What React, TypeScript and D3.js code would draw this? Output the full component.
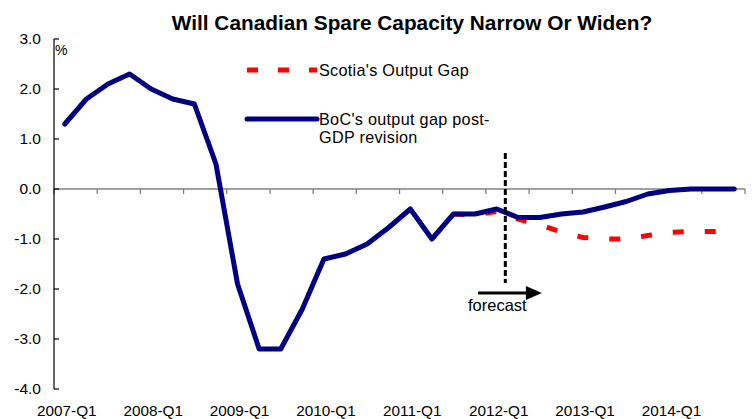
import React from "react";
import * as d3 from "d3";

const categories = [
  "2007-Q1","2007-Q2","2007-Q3","2007-Q4",
  "2008-Q1","2008-Q2","2008-Q3","2008-Q4",
  "2009-Q1","2009-Q2","2009-Q3","2009-Q4",
  "2010-Q1","2010-Q2","2010-Q3","2010-Q4",
  "2011-Q1","2011-Q2","2011-Q3","2011-Q4",
  "2012-Q1","2012-Q2","2012-Q3","2012-Q4",
  "2013-Q1","2013-Q2","2013-Q3","2013-Q4",
  "2014-Q1","2014-Q2","2014-Q3","2014-Q4",
];

const bocGap: (number | null)[] = [
  1.3, 1.8, 2.1, 2.3,
  2.0, 1.8, 1.7, 0.5,
  -1.9, -3.2, -3.2, -2.4,
  -1.4, -1.3, -1.1, -0.77,
  -0.4, -1.0, -0.5, -0.5,
  -0.4, -0.57, -0.57, -0.5,
  -0.46, -0.36, -0.25, -0.1,
  -0.03, 0.0, 0.0, 0.0,
];

const scotiaGap: (number | null)[] = [
  null, null, null, null,
  null, null, null, null,
  null, null, null, null,
  null, null, null, null,
  null, null, -0.5, -0.52,
  -0.45, -0.6, -0.72, -0.86,
  -0.97, -1.0, -1.0, -0.93,
  -0.87, -0.85, -0.85, -0.84,
];

const yTicks = [3, 2, 1, 0, -1, -2, -3, -4];
const xLabels = ["2007-Q1","2008-Q1","2009-Q1","2010-Q1","2011-Q1","2012-Q1","2013-Q1","2014-Q1"];

const W = 752;
const H = 419;
const FONT = "Liberation Sans, Arial, sans-serif";

export default function App() {
  const x = d3.scaleBand<string>().domain(categories).range([54, 745]).padding(0);
  const bw = x.bandwidth();
  const cx = (c: string) => (x(c) as number) + bw / 2;
  const y = d3.scaleLinear().domain([-4, 3]).range([389, 39]);

  const line = d3
    .line<number | null>()
    .defined((d) => d !== null)
    .x((_, i) => cx(categories[i]))
    .y((d) => y(d as number));

  const tickXs = categories.filter((_, i) => i % 2 === 0).map((c) => x(c) as number).concat([745]);

  const fx = cx("2012-Q1") + bw * 0.4;
  const arrowY = y(-2.08);
  const arrowX0 = cx("2011-Q4") + 3;
  const arrowX1 = cx("2012-Q3") + 2;

  return (
    <div style={{ position: "absolute", left: 0, top: 0 }}>
      <svg width={W} height={H} style={{ display: "block", background: "#fff" }} fontFamily={FONT}>
        <text x={412} y={30} textAnchor="middle" fontSize={20.8} fontWeight="bold" fill="#000">
          Will Canadian Spare Capacity Narrow Or Widen?
        </text>

        {/* x axis at zero */}
        <line x1={54} x2={745} y1={y(0)} y2={y(0)} stroke="#808080" strokeWidth={1.5} />
        {tickXs.map((tx, i) => (
          <line key={i} x1={tx} x2={tx} y1={y(0)} y2={y(0) + 5} stroke="#808080" strokeWidth={1.3} />
        ))}

        {/* y axis */}
        <line x1={54} x2={54} y1={y(3)} y2={y(-4)} stroke="#000" strokeWidth={1.2} />
        {yTicks.map((t) => (
          <g key={t}>
            <line x1={54} x2={59} y1={y(t)} y2={y(t)} stroke="#000" strokeWidth={1.2} />
            <text x={41} y={y(t) + 5} textAnchor="end" fontSize={15.5} fill="#000">
              {t.toFixed(1)}
            </text>
          </g>
        ))}
        <text x={55} y={55} fontSize={14} fill="#000">%</text>

        {xLabels.map((c) => (
          <text key={c} x={cx(c) + 2} y={416} textAnchor="middle" fontSize={15.3} fill="#000">
            {c}
          </text>
        ))}

        {/* series */}
        <path d={line(scotiaGap) || ""} fill="none" stroke="#ff0000" strokeWidth={5} strokeDasharray="11 21" />
        <path d={line(bocGap) || ""} fill="none" stroke="#000080" strokeWidth={5} strokeLinejoin="round" strokeLinecap="round" />

        {/* forecast marker */}
        <line x1={fx} x2={fx} y1={y(0.72)} y2={y(-1.88)} stroke="#000" strokeWidth={3} strokeDasharray="6 3" />
        <line x1={arrowX0} x2={arrowX1 - 14} y1={arrowY} y2={arrowY} stroke="#000" strokeWidth={3} />
        <path d={`M${arrowX1 - 16},${arrowY - 7} L${arrowX1},${arrowY} L${arrowX1 - 16},${arrowY + 7} Z`} fill="#000" />
        <text x={468} y={311} fontSize={16.5} fill="#000">forecast</text>

        {/* legend */}
        <line x1={247} x2={317} y1={70} y2={70} stroke="#ff0000" strokeWidth={5} strokeDasharray="11 20" />
        <g fontSize={16.2} letterSpacing={0.3} fill="#000">
          <text x={319} y={76}>Scotia's Output Gap</text>
          <text x={319} y={125}>BoC's output gap post-</text>
          <text x={319} y={143}>GDP revision</text>
        </g>
        <line x1={247} x2={317} y1={119} y2={119} stroke="#000080" strokeWidth={5} strokeLinecap="round" />
      </svg>
    </div>
  );
}
